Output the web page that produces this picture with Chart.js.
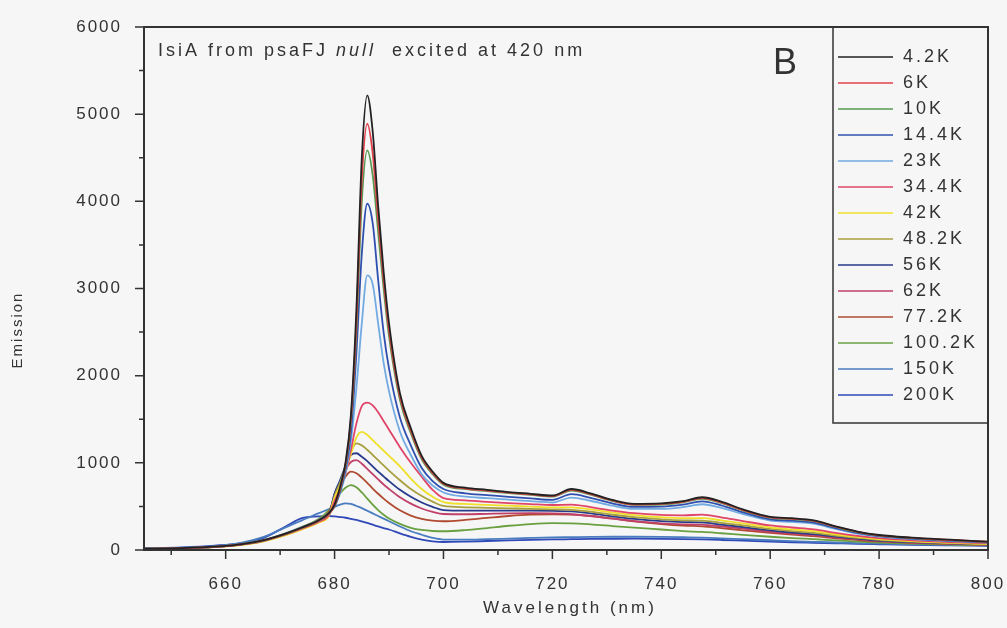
<!DOCTYPE html>
<html>
<head>
<meta charset="utf-8">
<script src="https://cdn.jsdelivr.net/npm/chart.js@4.4.1/dist/chart.umd.min.js"></script>
<style>
  html, body { margin: 0; padding: 0; background: #f6f6f6; }
  #wrap { position: relative; width: 1007px; height: 628px; }
</style>
</head>
<body>
<div id="wrap"><canvas id="chartIsiA"></canvas></div>
<script>
// wavelength grid (nm), denser around the 686 nm peak
const WAVELENGTHS = [645, 652, 658, 663, 667, 671, 674, 677, 679, 680, 681, 682, 683, 684, 685, 686, 687, 688, 689, 690,
  692, 694, 696, 698, 700, 704, 708, 712, 716, 720, 723.5, 727, 731, 735, 740, 744, 747.5, 751, 755, 760, 764, 768, 772,
  776, 780, 786, 793, 800];

const X_TICKS = [660, 680, 700, 720, 740, 760, 780, 800];
const X_MINOR = [650, 670, 690, 710, 730, 750, 770, 790];
const Y_TICKS = [0, 1000, 2000, 3000, 4000, 5000, 6000];
const Y_MINOR = [500, 1500, 2500, 3500, 4500, 5500];

const SERIES_LABELS = ['4.2K', '6K', '10K', '14.4K', '23K', '34.4K', '42K', '48.2K', '56K', '62K', '77.2K', '100.2K', '150K', '200K'];
const SERIES_COLORS = ['#222222', '#e0404a', '#5a9a50', '#3050b0', '#72aae2', '#e04468', '#f0e02a', '#a8a040',
  '#283a8c', '#c0406a', '#b04a30', '#6aa040', '#4a7cc0', '#3048b8'];

const T4_2 = [15, 22, 38, 68, 112, 188, 258, 338, 425, 520, 720, 1000, 1550, 2750, 4500, 5215, 4800, 3950, 3200, 2600,
  1800, 1400, 1080, 900, 770, 715, 690, 665, 645, 625, 700, 650, 575, 530, 535, 560, 605, 555, 465, 380, 365, 340, 272,
  212, 172, 142, 118, 95];
const T6 = [14, 20, 36, 66, 110, 185, 255, 335, 420, 510, 700, 980, 1500, 2600, 4250, 4890, 4550, 3800, 3100, 2520,
  1760, 1370, 1060, 885, 760, 705, 682, 658, 638, 618, 690, 642, 568, 522, 528, 552, 595, 547, 458, 374, 358, 334, 267,
  208, 168, 139, 115, 93];
const T10 = [14, 20, 36, 65, 108, 182, 252, 332, 418, 505, 690, 960, 1460, 2500, 4000, 4585, 4300, 3650, 3000, 2450,
  1720, 1340, 1040, 870, 750, 698, 676, 652, 632, 612, 682, 635, 562, 518, 522, 546, 588, 540, 452, 370, 354, 330, 264,
  205, 166, 137, 113, 92];
const T14_4 = [14, 20, 36, 66, 110, 185, 256, 336, 420, 500, 670, 920, 1350, 2250, 3400, 3972, 3750, 3100, 2500, 2080,
  1520, 1200, 940, 790, 700, 650, 630, 610, 592, 575, 640, 598, 535, 495, 498, 520, 558, 512, 432, 352, 336, 315, 252,
  196, 160, 131, 107, 88];
const T23 = [15, 21, 37, 68, 113, 190, 262, 342, 425, 500, 650, 880, 1250, 1850, 2600, 3151, 3050, 2600, 2150, 1820,
  1360, 1090, 870, 740, 660, 612, 595, 578, 560, 545, 602, 565, 508, 472, 472, 492, 525, 484, 412, 338, 322, 302, 242,
  188, 155, 126, 103, 85];
const T34_4 = [14, 20, 35, 64, 106, 178, 245, 322, 405, 560, 700, 880, 1150, 1450, 1650, 1690, 1660, 1580, 1480, 1380,
  1180, 1000, 840, 690, 595, 570, 552, 538, 526, 516, 520, 492, 452, 422, 402, 398, 405, 375, 332, 282, 258, 236, 196,
  162, 136, 112, 92, 78];
const T42 = [13, 19, 33, 60, 100, 170, 236, 312, 398, 600, 730, 900, 1100, 1290, 1355, 1320, 1260, 1200, 1140, 1080,
  960, 820, 700, 610, 550, 528, 518, 508, 498, 490, 488, 465, 430, 400, 376, 366, 366, 340, 305, 260, 236, 216, 180,
  150, 126, 102, 84, 70];
const T48_2 = [13, 19, 33, 61, 102, 172, 240, 318, 405, 620, 770, 950, 1130, 1223, 1200, 1150, 1090, 1030, 970, 910,
  800, 700, 620, 555, 505, 490, 484, 478, 472, 467, 460, 440, 406, 376, 352, 341, 338, 312, 282, 242, 217, 197, 166,
  140, 117, 96, 79, 67];
const T56 = [14, 20, 35, 64, 106, 178, 248, 328, 415, 650, 800, 960, 1090, 1110, 1070, 1020, 960, 900, 845, 790,
  690, 610, 545, 495, 458, 452, 452, 452, 452, 450, 442, 420, 386, 356, 331, 320, 316, 292, 263, 226, 201, 181, 155,
  131, 109, 90, 75, 64];
const T62 = [14, 20, 35, 64, 106, 178, 248, 328, 415, 640, 780, 920, 1010, 1030, 990, 930, 870, 810, 752, 700,
  605, 532, 476, 438, 413, 410, 415, 420, 422, 420, 410, 390, 360, 332, 306, 295, 290, 270, 245, 210, 188, 170, 145,
  122, 102, 85, 72, 62];
const T77_2 = [14, 20, 36, 66, 110, 184, 256, 340, 440, 600, 720, 840, 898, 880, 830, 770, 705, 645, 590, 540,
  455, 395, 358, 338, 330, 345, 368, 390, 405, 410, 405, 390, 362, 330, 298, 280, 272, 252, 226, 196, 176, 158, 135,
  115, 98, 82, 70, 60];
const T100_2 = [15, 22, 38, 70, 116, 192, 266, 352, 460, 560, 650, 715, 745, 720, 660, 590, 520, 458, 405, 362,
  300, 255, 230, 218, 215, 228, 252, 278, 298, 308, 306, 294, 275, 256, 235, 217, 207, 192, 174, 152, 137, 124, 110,
  97, 86, 73, 63, 55];
const T150 = [18, 26, 45, 85, 150, 260, 340, 420, 470, 495, 520, 535, 530, 505, 480, 450, 420, 390, 360, 330,
  270, 215, 175, 140, 120, 118, 124, 131, 138, 144, 147, 150, 152, 152, 150, 146, 142, 134, 124, 112, 102, 94, 86,
  79, 73, 65, 58, 52];
const T200 = [20, 30, 50, 80, 140, 270, 365, 385, 390, 385, 378, 370, 358, 345, 328, 310, 290, 270, 252, 235,
  190, 150, 120, 100, 92, 96, 103, 110, 116, 121, 124, 127, 129, 130, 128, 125, 121, 115, 107, 97, 89, 83, 77,
  71, 66, 59, 53, 48];

const SERIES_VALUES = [T4_2, T6, T10, T14_4, T23, T34_4, T42, T48_2, T56, T62, T77_2, T100_2, T150, T200];

const FONT = "'Liberation Sans', Arial, sans-serif";
const INK = '#333333';

const datasets = SERIES_VALUES.map((values, i) => ({
  label: SERIES_LABELS[i],
  data: WAVELENGTHS.map((w, j) => ({ x: w, y: values[j] })),
  borderColor: SERIES_COLORS[i],
  borderWidth: 1.8,
  pointRadius: 0,
  cubicInterpolationMode: 'monotone',
  fill: false,
}));

// frame, minor ticks, annotations, axis titles and the boxed legend
const decorations = {
  id: 'decorations',
  beforeDraw(chart) {
    chart.ctx.letterSpacing = '2px';
  },
  afterDraw(chart) {
    const { ctx, chartArea: area, scales } = chart;
    ctx.save();
    ctx.strokeStyle = INK;
    ctx.lineWidth = 2;
    ctx.strokeRect(area.left, area.top, area.right - area.left, area.bottom - area.top);

    ctx.lineWidth = 1.5;
    ctx.beginPath();
    Y_TICKS.forEach((v) => {
      const y = scales.y.getPixelForValue(v);
      ctx.moveTo(area.left - 9, y);
      ctx.lineTo(area.left, y);
    });
    Y_MINOR.forEach((v) => {
      const y = scales.y.getPixelForValue(v);
      ctx.moveTo(area.left - 5, y);
      ctx.lineTo(area.left, y);
    });
    X_TICKS.forEach((v) => {
      const x = scales.x.getPixelForValue(v);
      ctx.moveTo(x, area.bottom);
      ctx.lineTo(x, area.bottom + 9);
    });
    X_MINOR.forEach((v) => {
      const x = scales.x.getPixelForValue(v);
      ctx.moveTo(x, area.bottom);
      ctx.lineTo(x, area.bottom + 5);
    });
    ctx.stroke();

    ctx.fillStyle = INK;
    ctx.textBaseline = 'middle';
    ctx.textAlign = 'left';
    ctx.letterSpacing = '3px';
    let x = area.left + 14;
    const titleY = 51;
    const parts = [
      ['IsiA from psaFJ ', 'normal'],
      ['null', 'italic'],
      ['  excited at 420 nm', 'normal'],
    ];
    parts.forEach(([text, style]) => {
      ctx.font = `${style} 18px ${FONT}`;
      ctx.fillText(text, x, titleY);
      x += ctx.measureText(text).width;
    });

    ctx.letterSpacing = '0px';
    ctx.font = `36px ${FONT}`;
    ctx.textAlign = 'center';
    ctx.fillText('B', 785, 64);

    // legend box
    const boxLeft = 833;
    ctx.strokeStyle = INK;
    ctx.lineWidth = 1.5;
    ctx.strokeRect(boxLeft, area.top, area.right - boxLeft, 423 - area.top);
    ctx.font = `18px ${FONT}`;
    ctx.letterSpacing = '3px';
    ctx.textAlign = 'left';
    SERIES_LABELS.forEach((label, i) => {
      const y = 57 + i * 26;
      ctx.strokeStyle = SERIES_COLORS[i];
      ctx.lineWidth = 1.5;
      ctx.beginPath();
      ctx.moveTo(boxLeft + 5, y);
      ctx.lineTo(boxLeft + 60, y);
      ctx.stroke();
      ctx.fillStyle = INK;
      ctx.fillText(label, boxLeft + 70, y);
    });

    // axis titles
    ctx.font = `17px ${FONT}`;
    ctx.letterSpacing = '3px';
    ctx.textAlign = 'center';
    ctx.fillText('Wavelength (nm)', 570, 608);
    ctx.save();
    ctx.translate(18, 330);
    ctx.rotate(-Math.PI / 2);
    ctx.letterSpacing = '2px';
    ctx.font = `15px ${FONT}`;
    ctx.fillText('Emission', 0, 0);
    ctx.restore();

    ctx.restore();
  },
};

new Chart(document.getElementById('chartIsiA').getContext('2d'), {
  type: 'line',
  data: { datasets },
  options: {
    responsive: true,
    maintainAspectRatio: false,
    animation: false,
    layout: { padding: { top: 27, right: 19, left: 0, bottom: 0 } },
    plugins: {
      legend: { display: false },
      tooltip: { enabled: false },
    },
    scales: {
      x: {
        type: 'linear',
        min: 645,
        max: 800,
        afterBuildTicks: (scale) => { scale.ticks = X_TICKS.map((v) => ({ value: v })); },
        afterFit: (scale) => {
          scale.height = 78;
          scale.paddingLeft = 0;
          scale.paddingRight = 0;
        },
        grid: { display: false, drawTicks: false },
        border: { display: false },
        ticks: { padding: 24, color: INK, font: { family: FONT, size: 17 }, callback: (v) => String(v) },
      },
      y: {
        min: 0,
        max: 6000,
        afterBuildTicks: (scale) => { scale.ticks = Y_TICKS.map((v) => ({ value: v })); },
        afterFit: (scale) => {
          scale.width = 144;
          scale.paddingTop = 0;
          scale.paddingBottom = 0;
        },
        grid: { display: false, drawTicks: false },
        border: { display: false },
        ticks: { padding: 22, color: INK, font: { family: FONT, size: 17 }, callback: (v) => String(v) },
      },
    },
  },
  plugins: [decorations],
});
</script>
</body>
</html>
